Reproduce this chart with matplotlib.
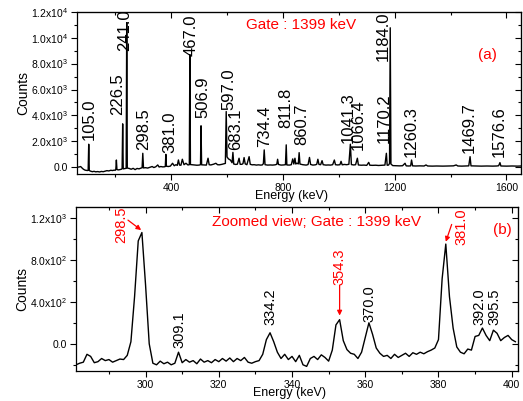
import matplotlib
matplotlib.use('Agg')
import numpy as np
import matplotlib.pyplot as plt
from matplotlib.ticker import MultipleLocator, FuncFormatter

plt.rcParams['font.family'] = ['Liberation Sans', 'DejaVu Sans']
plt.rcParams['mathtext.fontset'] = 'custom'
plt.rcParams['mathtext.rm'] = 'Liberation Sans'
plt.rcParams['mathtext.it'] = 'Liberation Sans:italic'
plt.rcParams['mathtext.bf'] = 'Liberation Sans:bold'

# ---------------- data: panel (a) full gated spectrum ----------------
top_energy = [63, 70, 76, 80, 86, 92, 100, 103, 105, 107, 112, 118, 124, 130, 137, 144, 150, 157,
              163, 170, 177, 184, 190, 196, 200, 202, 204, 206, 212, 218, 222, 224.5, 226.5, 228.5,
              233, 239, 241, 243, 250, 257, 264, 271, 278, 285, 292, 296, 298.5, 301, 308, 316, 324,
              332, 338, 345, 352, 357, 363, 370, 376, 379, 381, 383, 390, 397, 405, 411, 417, 422,
              426, 430, 435, 440, 446, 453, 460, 465, 467, 469, 478, 485, 492, 500, 505, 506.9, 509,
              518, 526, 532, 536, 542, 552, 560, 566, 572, 580, 587, 594, 597, 600, 605, 612, 618,
              621, 624, 631, 637, 643, 647, 653, 657, 661, 665, 671, 679, 683, 690, 697, 705, 712,
              720, 726, 730, 733, 736, 745, 755, 763, 772, 778, 781, 784, 793, 802, 809, 811.8, 814,
              823, 830, 835, 839, 843, 846, 850, 855, 858, 861, 871, 883, 890, 895, 899, 907, 916,
              921, 925, 929, 935, 940, 944, 954, 962, 970, 978, 984, 988, 996, 1004, 1008, 1012,
              1020, 1028, 1036, 1041.3, 1045, 1053, 1060, 1066.4, 1070, 1080, 1090, 1100, 1107, 1111,
              1121, 1132, 1142, 1150, 1157, 1165, 1170.2, 1173, 1178, 1181.5, 1184, 1186.5, 1193,
              1205, 1217, 1228, 1237, 1241, 1250, 1257, 1260.3, 1264, 1275, 1290, 1305, 1312, 1318,
              1335, 1350, 1372, 1390, 1410, 1420, 1426, 1440, 1456, 1465, 1469.7, 1473, 1490, 1510,
              1530, 1551, 1565, 1572, 1576.6, 1580, 1600, 1620, 1640, 1652]
top_counts = [10, 20, 60, -30, -150, -220, -250, -230, 1780, -250, -300, -340, -310, -350, -330, -360,
              -320, -340, -300, -260, -280, -230, -250, -220, -230, -150, 560, -180, -200, -170, -150,
              -100, 3350, -120, -100, -80, 11150, -60, -90, -150, -80, -180, -90, -120, -60, -40, 1080,
              -50, -30, -60, 0, 60, -20, 40, 180, 20, 60, 30, 40, 60, 1000, 80, 60, 90, 310, 120, 200,
              150, 565, 170, 160, 620, 200, 310, 180, 200, 8690, 210, 190, 180, 160, 170, 200, 3200,
              190, 180, 170, 700, 200, 180, 240, 310, 200, 190, 220, 260, 300, 4300, 800, 650, 560,
              350, 1150, 250, 220, 240, 700, 230, 230, 280, 750, 260, 200, 820, 230, 190, 200, 170,
              190, 170, 180, 280, 1340, 200, 170, 180, 170, 190, 230, 620, 220, 170, 180, 200, 1730,
              180, 170, 200, 645, 250, 700, 250, 320, 260, 1130, 250, 200, 170, 210, 760, 220, 170,
              190, 230, 620, 220, 200, 510, 200, 170, 180, 170, 200, 560, 200, 180, 200, 460, 190,
              220, 200, 230, 1780, 210, 180, 200, 700, 180, 160, 170, 150, 380, 160, 150, 160, 140,
              150, 160, 170, 1080, 160, 170, 300, 10760, 250, 130, 120, 110, 120, 310, 110, 100, 110,
              560, 110, 100, 110, 100, 180, 100, 90, 100, 90, 100, 110, 180, 100, 90, 100, 110, 820,
              110, 100, 90, 100, 90, 100, 120, 360, 100, 90, 100, 90, 100]

top_labels = ['105.0', '226.5', '241.0', '298.5', '381.0', '467.0', '506.9', '597.0', '683.1',
              '734.4', '811.8', '860.7', '1041.3', '1066.4', '1170.2', '1184.0', '1260.3',
              '1469.7', '1576.6']
top_label_energy = [106.5, 208, 232, 300, 395.5, 472.5, 512, 607.5, 631.5, 733, 810.5, 867.5,
                    1034, 1070, 1161.5, 1159.5, 1257.5, 1468.5, 1575.5]
top_label_count = [2110, 4050, 8950, 1340, 1080, 8560, 3790, 4430, 1340, 1600, 3020, 1730,
                   1860, 1340, 1860, 8170, 820, 1080, 820]

# ---------------- data: panel (b) zoomed view ----------------
zoom_energy = list(range(280, 402))
zoom_counts = [-190, -200, -185, -175, -100, -120, -180, -170, -140, -160,   # 280-289
               -150, -175, -160, -145, -150, -110, 20, 450, 980, 1060,       # 290-299
               560, 0, -185, -200, -165, -190, -175, -200, -185, -80,        # 300-309
               -180, -150, -175, -160, -190, -145, -175, -160, -180, -150,   # 310-319
               -170, -140, -165, -135, -170, -140, -160, -130, -175, -185,   # 320-329
               -170, -160, -100, 40, 105, 20, -80, -140, -100, -150,         # 330-339
               -120, -170, -110, -200, -215, -140, -120, -150, -105, -130,   # 340-349
               -165, -60, 180, 230, 30, -55, -90, -100, -140, -80,           # 350-359
               60, 200, 90, -40, -90, -120, -110, -140, -100, -130,          # 360-369
               -110, -90, -120, -85, -100, -80, -95, -75, -60, -40,          # 370-379
               40, 620, 950, 450, 150, -30, -80, -95, -50, -60,              # 380-389
               70, 80, 150, 80, 30, 130, 100, 30, 60, 80,                    # 390-399
               40, 20]                                                       # 400-401

zoom_black_labels = ['309.1', '334.2', '370.0', '392.0', '395.5']
zoom_black_energy = [309.3, 334.2, 361.2, 391.2, 395.3]
zoom_black_count = [-40, 180, 209, 180, 180]

zoom_red_labels = ['298.5', '354.3', '381.0']
zoom_red_energy = [293.4, 353.0, 386.3]
zoom_red_count = [960, 560, 940]
arrow_from = [(295.2, 1178), (353.0, 560), (383.6, 1137)]
arrow_to = [(298.8, 1083), (353.0, 269), (382.0, 972)]


def sci_fmt(v, pos):
    if abs(v) < 1e-9:
        return '0.0'
    e = int(np.floor(np.log10(abs(v)) + 1e-9))
    m = v / 10 ** e
    return r'$\mathregular{%.1fx10^{%d}}$' % (m, e)


def style_axes(ax, xmaj, xmin, ymaj, ymin):
    ax.xaxis.set_major_locator(MultipleLocator(xmaj))
    ax.xaxis.set_minor_locator(MultipleLocator(xmin))
    ax.yaxis.set_major_locator(MultipleLocator(ymaj))
    ax.yaxis.set_minor_locator(MultipleLocator(ymin))
    ax.tick_params(axis='both', which='both', labelsize=7.5, width=0.8, pad=2.5)
    ax.tick_params(axis='both', which='major', length=4)
    ax.tick_params(axis='both', which='minor', length=2)
    ax.tick_params(axis='x', which='both', direction='out', top=False)
    ax.tick_params(axis='y', which='both', direction='out', right=False)
    ax.yaxis.set_major_formatter(FuncFormatter(sci_fmt))
    for s in ax.spines.values():
        s.set_linewidth(0.9)
    sx = ax.secondary_xaxis('top')
    sx.xaxis.set_major_locator(MultipleLocator(xmaj))
    sx.xaxis.set_minor_locator(MultipleLocator(xmin))
    sx.tick_params(axis='x', which='both', direction='in', labeltop=False, width=0.8)
    sx.tick_params(which='major', length=4)
    sx.tick_params(which='minor', length=2)
    sy = ax.secondary_yaxis('right')
    sy.yaxis.set_major_locator(MultipleLocator(ymaj))
    sy.yaxis.set_minor_locator(MultipleLocator(ymin))
    sy.tick_params(axis='y', which='both', direction='in', labelright=False, width=0.8)
    sy.tick_params(which='major', length=4)
    sy.tick_params(which='minor', length=2)
    ax.set_xlabel('Energy (keV)', fontsize=9, labelpad=-2)
    ax.xaxis.label.set_x(0.482)
    ax.set_ylabel('Counts', fontsize=10)
    ax.yaxis.set_label_coords(-0.106, 0.5)


fig = plt.figure(figsize=(5.23, 4.01), dpi=100)

# ---------- panel (a) ----------
ax1 = fig.add_axes([0.1472, 0.566, 0.849, 0.4048])
ax1.plot(top_energy, top_counts, color='black', lw=1.0)
ax1.set_xlim(63, 1652)
ax1.set_ylim(-520, 12000)
style_axes(ax1, 400, 200, 2000, 1000)
for t, e, c in zip(top_labels, top_label_energy, top_label_count):
    ax1.text(e, c, t, rotation=90, ha='center', va='bottom', fontsize=12, color='black',
             clip_on=False)
ax1.text(0.505, 0.918, 'Gate : 1399 keV', transform=ax1.transAxes, color='red', fontsize=11,
         ha='center', va='center')
ax1.text(0.925, 0.733, '(a)', transform=ax1.transAxes, color='red', fontsize=11,
         ha='center', va='center')

# ---------- panel (b) ----------
ax2 = fig.add_axes([0.1453, 0.0756, 0.8457, 0.4074])
ax2.plot(zoom_energy, zoom_counts, color='black', lw=1.0)
ax2.set_xlim(281, 401.8)
ax2.set_ylim(-256, 1300)
style_axes(ax2, 20, 10, 400, 200)
for t, e, c in zip(zoom_black_labels, zoom_black_energy, zoom_black_count):
    ax2.text(e, c, t, rotation=90, ha='center', va='bottom', fontsize=10.5, color='black')
for t, e, c in zip(zoom_red_labels, zoom_red_energy, zoom_red_count):
    ax2.text(e, c, t, rotation=90, ha='center', va='bottom', fontsize=10.5, color='red',
             clip_on=True)
for (x0, y0), (x1, y1) in zip(arrow_from, arrow_to):
    ax2.annotate('', xy=(x1, y1), xytext=(x0, y0),
                 arrowprops=dict(arrowstyle='-|>', color='red', lw=0.9, mutation_scale=7,
                                 shrinkA=0, shrinkB=0))
ax2.text(0.543, 0.91, 'Zoomed view; Gate : 1399 keV', transform=ax2.transAxes, color='red',
         fontsize=11, ha='center', va='center')
ax2.text(0.965, 0.861, '(b)', transform=ax2.transAxes, color='red', fontsize=11,
         ha='center', va='center')

fig.savefig('out.png', dpi=100)
